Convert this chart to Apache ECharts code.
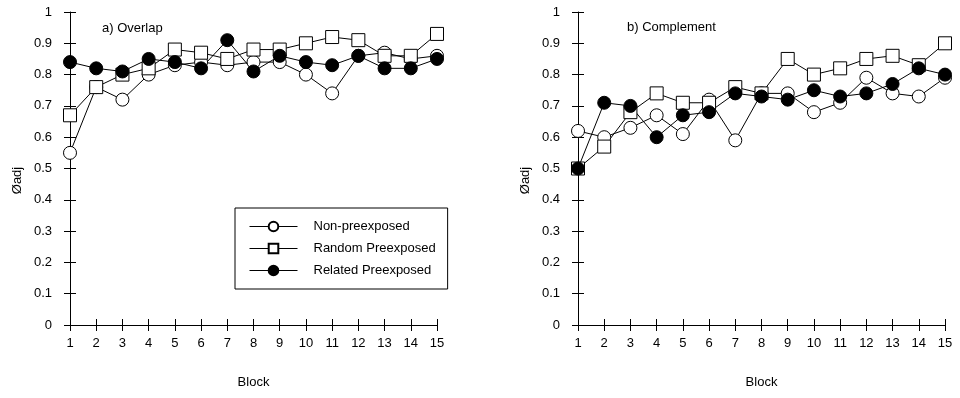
<!DOCTYPE html>
<html>
<head>
<meta charset="utf-8">
<script src="https://cdn.jsdelivr.net/npm/echarts@6/dist/echarts.min.js"></script>
<style>
  html, body { margin: 0; padding: 0; background: #fff; }
  #chart { width: 960px; height: 398px; }
</style>
</head>
<body>
<div id="chart"></div>
<script>
// blocks on the x axis
const blocks = [1, 2, 3, 4, 5, 6, 7, 8, 9, 10, 11, 12, 13, 14, 15];
const seriesNames = ['Non-preexposed', 'Random Preexposed', 'Related Preexposed'];

// a) Overlap
const overlapNon     = [0.55, 0.76, 0.72, 0.80, 0.83, 0.84, 0.83, 0.84, 0.84, 0.80, 0.74, 0.86, 0.87, 0.85, 0.86];
const overlapRandom  = [0.67, 0.76, 0.80, 0.82, 0.88, 0.87, 0.85, 0.88, 0.88, 0.90, 0.92, 0.91, 0.86, 0.86, 0.93];
const overlapRelated = [0.84, 0.82, 0.81, 0.85, 0.84, 0.82, 0.91, 0.81, 0.86, 0.84, 0.83, 0.86, 0.82, 0.82, 0.85];

// b) Complement
const complNon     = [0.62, 0.60, 0.63, 0.67, 0.61, 0.72, 0.59, 0.74, 0.74, 0.68, 0.71, 0.79, 0.74, 0.73, 0.79];
const complRandom  = [0.50, 0.57, 0.68, 0.74, 0.71, 0.71, 0.76, 0.74, 0.85, 0.80, 0.82, 0.85, 0.86, 0.83, 0.90];
const complRelated = [0.50, 0.71, 0.70, 0.60, 0.67, 0.68, 0.74, 0.73, 0.72, 0.75, 0.73, 0.74, 0.77, 0.82, 0.80];

const font = 'Liberation Sans, Arial, sans-serif';

function pairs(vals) {
  return blocks.map((b, i) => [b, vals[i]]);
}

function makeSeries(name, vals, idx, kind) {
  return {
    name: name,
    type: 'line',
    xAxisIndex: idx,
    yAxisIndex: idx,
    data: pairs(vals),
    symbol: kind === 'square' ? 'rect' : 'circle',
    symbolSize: 13,
    lineStyle: { color: '#000', width: 1 },
    itemStyle: {
      color: kind === 'filled' ? '#000' : '#fff',
      borderColor: '#000',
      borderWidth: 1
    },
    emphasis: { disabled: true },
    animation: false
  };
}

// main axis has labels + outside ticks; the twin only adds inside ticks so they cross
function xAx(grid, withLabels) {
  return {
    type: 'value', gridIndex: grid, min: 1, max: 15, interval: 1,
    position: 'bottom',
    name: withLabels ? 'Block' : '',
    nameLocation: 'middle', nameGap: 51,
    nameTextStyle: { fontFamily: font, fontSize: 13, color: '#000' },
    axisLine: { show: withLabels, onZero: false, lineStyle: { color: '#000', width: 1 } },
    axisTick: { show: true, inside: !withLabels, length: 6, lineStyle: { color: '#000' } },
    axisLabel: { show: withLabels, margin: 12, fontFamily: font, fontSize: 13, color: '#000' },
    splitLine: { show: false }
  };
}

function yAx(grid, withLabels) {
  return {
    type: 'value', gridIndex: grid, min: 0, max: 1, interval: 0.1,
    position: 'left',
    name: withLabels ? 'Øadj' : '',
    nameLocation: 'middle', nameGap: 46, nameRotate: 90,
    nameTextStyle: { fontFamily: font, fontSize: 13, color: '#000', padding: [0, 0, 0, -24] },
    axisLine: { show: withLabels, onZero: false, lineStyle: { color: '#000', width: 1 } },
    axisTick: { show: true, inside: !withLabels, length: 6, lineStyle: { color: '#000' } },
    axisLabel: { show: withLabels, margin: 18, fontFamily: font, fontSize: 13, color: '#000' },
    splitLine: { show: false }
  };
}

const chart = echarts.init(document.getElementById('chart'));
chart.setOption({
  backgroundColor: '#fff',
  animation: false,
  title: [
    { text: 'a) Overlap', left: 97, top: 17, textStyle: { fontFamily: font, fontSize: 13, fontWeight: 'normal', color: '#000' } },
    { text: 'b) Complement', left: 622, top: 16, textStyle: { fontFamily: font, fontSize: 13, fontWeight: 'normal', color: '#000' } }
  ],
  legend: {
    data: seriesNames,
    orient: 'vertical',
    left: 235,
    top: 208,
    padding: [12, 12, 12, 14],
    itemGap: 9,
    itemWidth: 48,
    itemHeight: 12,
    borderColor: '#000',
    borderWidth: 1,
    selectedMode: false,
    lineStyle: { width: 1, color: '#000' },
    textStyle: { fontFamily: font, fontSize: 13, color: '#000', padding: [0, 0, 0, 11] }
  },
  grid: [
    { left: 70, right: 523, top: 12, bottom: 73 },
    { left: 578, right: 15, top: 12, bottom: 73 }
  ],
  xAxis: [xAx(0, true), xAx(1, true), xAx(0, false), xAx(1, false)],
  yAxis: [yAx(0, true), yAx(1, true), yAx(0, false), yAx(1, false)],
  series: [
    makeSeries(seriesNames[0], overlapNon, 0, 'open'),
    makeSeries(seriesNames[1], overlapRandom, 0, 'square'),
    makeSeries(seriesNames[2], overlapRelated, 0, 'filled'),
    makeSeries(seriesNames[0], complNon, 1, 'open'),
    makeSeries(seriesNames[1], complRandom, 1, 'square'),
    makeSeries(seriesNames[2], complRelated, 1, 'filled')
  ]
});
</script>
</body>
</html>
